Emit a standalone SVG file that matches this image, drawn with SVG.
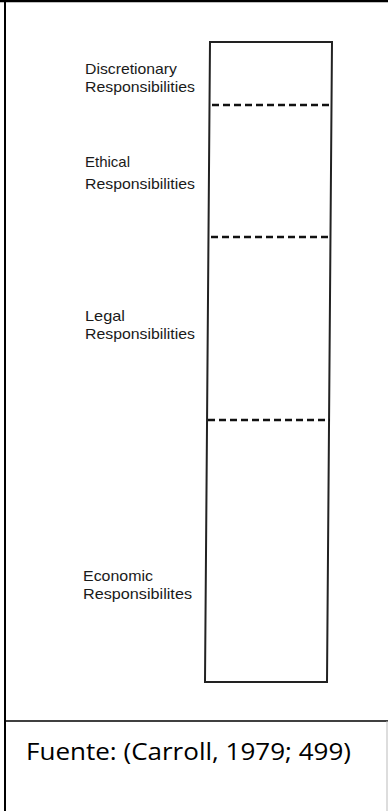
<svg xmlns="http://www.w3.org/2000/svg" width="388" height="811" viewBox="0 0 388 811">
<style>
.lbl{font-family:"Liberation Sans",Arial,sans-serif;font-size:15px;fill:#1a1a1a}
.dash{stroke:#111;stroke-width:2.5;stroke-dasharray:7 4;fill:none}
.frame{stroke:#000;fill:none}
.src{font-family:"Open Sans","Noto Sans",sans-serif;font-size:24px;fill:#000}
</style>
<rect width="388" height="811" fill="#fff"/>
<g id="frame">
<line class="frame" x1="0" y1="1" x2="388" y2="1" stroke-width="2.5"/>
<line class="frame" x1="5" y1="0" x2="5" y2="811" stroke-width="2"/>
<line class="frame" x1="5" y1="721" x2="388" y2="721" stroke-width="1.5"/>
<line x1="387" y1="721" x2="387" y2="811" stroke="#bbb" stroke-width="1"/>
</g>
<g id="column">
<polygon points="210,42 332,42 327,682 205,682" fill="none" stroke="#222" stroke-width="2"/>
</g>
<g id="dividers">
<line class="dash" x1="212" y1="105" x2="331" y2="105"/>
<line class="dash" x1="211" y1="237" x2="330" y2="237"/>
<line class="dash" x1="208" y1="420" x2="330" y2="420"/>
</g>
<g id="discretionary">
<text class="lbl" x="85" y="74" textLength="92" lengthAdjust="spacingAndGlyphs">Discretionary</text>
<text class="lbl" x="85" y="92" textLength="110" lengthAdjust="spacingAndGlyphs">Responsibilities</text>
</g>
<g id="ethical">
<text class="lbl" x="85" y="167" textLength="45" lengthAdjust="spacingAndGlyphs">Ethical</text>
<text class="lbl" x="85" y="189" textLength="110" lengthAdjust="spacingAndGlyphs">Responsibilities</text>
</g>
<g id="legal">
<text class="lbl" x="85" y="321" textLength="40" lengthAdjust="spacingAndGlyphs">Legal</text>
<text class="lbl" x="85" y="339" textLength="110" lengthAdjust="spacingAndGlyphs">Responsibilities</text>
</g>
<g id="economic">
<text class="lbl" x="83" y="581" textLength="70" lengthAdjust="spacingAndGlyphs">Economic</text>
<text class="lbl" x="83" y="599" textLength="109" lengthAdjust="spacingAndGlyphs">Responsibilites</text>
</g>
<g id="source">
<text class="src" x="26" y="760" textLength="325" lengthAdjust="spacingAndGlyphs">Fuente: (Carroll, 1979; 499)</text>
</g>
</svg>
